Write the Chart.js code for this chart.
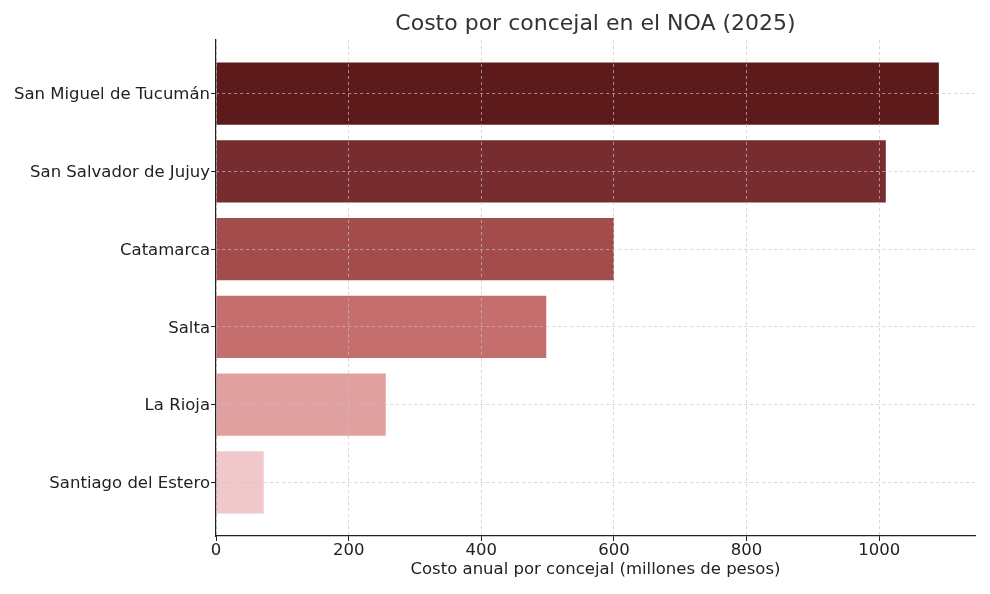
<!DOCTYPE html>
<html>
<head>
<meta charset="utf-8">
<script src="https://cdn.jsdelivr.net/npm/chart.js@4/dist/chart.umd.min.js"></script>
<style>
  html, body { margin: 0; padding: 0; background: #fff; }
  #wrap { width: 990px; height: 594px; }
</style>
</head>
<body>
<div id="wrap"><canvas id="myChart" width="990" height="594"></canvas></div>
<script>
const cities = ["San Miguel de Tucumán", "San Salvador de Jujuy", "Catamarca", "Salta", "La Rioja", "Santiago del Estero"];
const costs  = [1090, 1010, 600, 498, 256, 72];
const colors = ["#5c1a1a", "#772c2f", "#a34c4c", "#c46f6d", "#e0a0a0", "#f0c8c9"];
const xTicks = [0, 200, 400, 600, 800, 1000];

const titleText = "Costo por concejal en el NOA (2025)";
const font = "'DejaVu Sans', sans-serif";

// title centred over the plot area, like matplotlib does it
const titlePlugin = {
    id: 'plotTitle',
    afterDraw(chart) {
        const ctx = chart.ctx;
        const a = chart.chartArea;
        ctx.save();
        ctx.font = "22px " + font;
        ctx.fillStyle = "#333";
        ctx.textAlign = "center";
        ctx.textBaseline = "middle";
        ctx.fillText(titleText, (a.left + a.right) / 2, 24);
        ctx.restore();
    }
};

// grid sits on top of the bars (z: 1)
const gridOpts = {
    color: 'rgba(195,195,195,0.85)',
    lineWidth: 0.8,
    offset: false,
    z: 1,
    tickColor: '#222',
    tickLength: 5,
    tickWidth: 1
};
const borderOpts = {display: true, color: '#222', width: 1.2, dash: [3, 3], z: 2};

new Chart(document.getElementById('myChart'), {
    type: 'bar',
    data: {
        datasets: [{
            data: costs.map((v, i) => ({x: v, y: i})),
            backgroundColor: colors,
            borderWidth: 0,
            barPercentage: 0.8,
            categoryPercentage: 1
        }]
    },
    options: {
        indexAxis: 'y',
        responsive: false,
        animation: false,
        layout: {padding: {top: 40, right: 15, left: 0, bottom: 0}},
        plugins: {
            legend: {display: false},
            tooltip: {enabled: false}
        },
        scales: {
            x: {
                type: 'linear',
                min: 0,
                max: 1144.5,
                afterFit: s => { s.height = 58; },
                afterBuildTicks: s => { s.ticks = xTicks.map(v => ({value: v})); },
                grid: gridOpts,
                border: borderOpts,
                ticks: {
                    color: '#222',
                    font: {family: font, size: 16.5},
                    padding: 0,
                    callback: v => String(v)
                },
                title: {
                    display: true,
                    text: "Costo anual por concejal (millones de pesos)",
                    color: '#222',
                    font: {family: font, size: 16.5},
                    padding: {top: 2, bottom: 14}
                }
            },
            y: {
                type: 'linear',
                min: -0.69,
                max: 5.69,
                reverse: true,
                offset: false,
                afterFit: s => { s.width = 216; },
                afterBuildTicks: s => { s.ticks = cities.map((_, i) => ({value: i})); },
                grid: gridOpts,
                border: borderOpts,
                ticks: {
                    color: '#222',
                    font: {family: font, size: 16.5},
                    padding: 1,
                    labelOffset: 1.5,
                    callback: v => cities[v]
                }
            }
        }
    },
    plugins: [titlePlugin]
});
</script>
</body>
</html>
